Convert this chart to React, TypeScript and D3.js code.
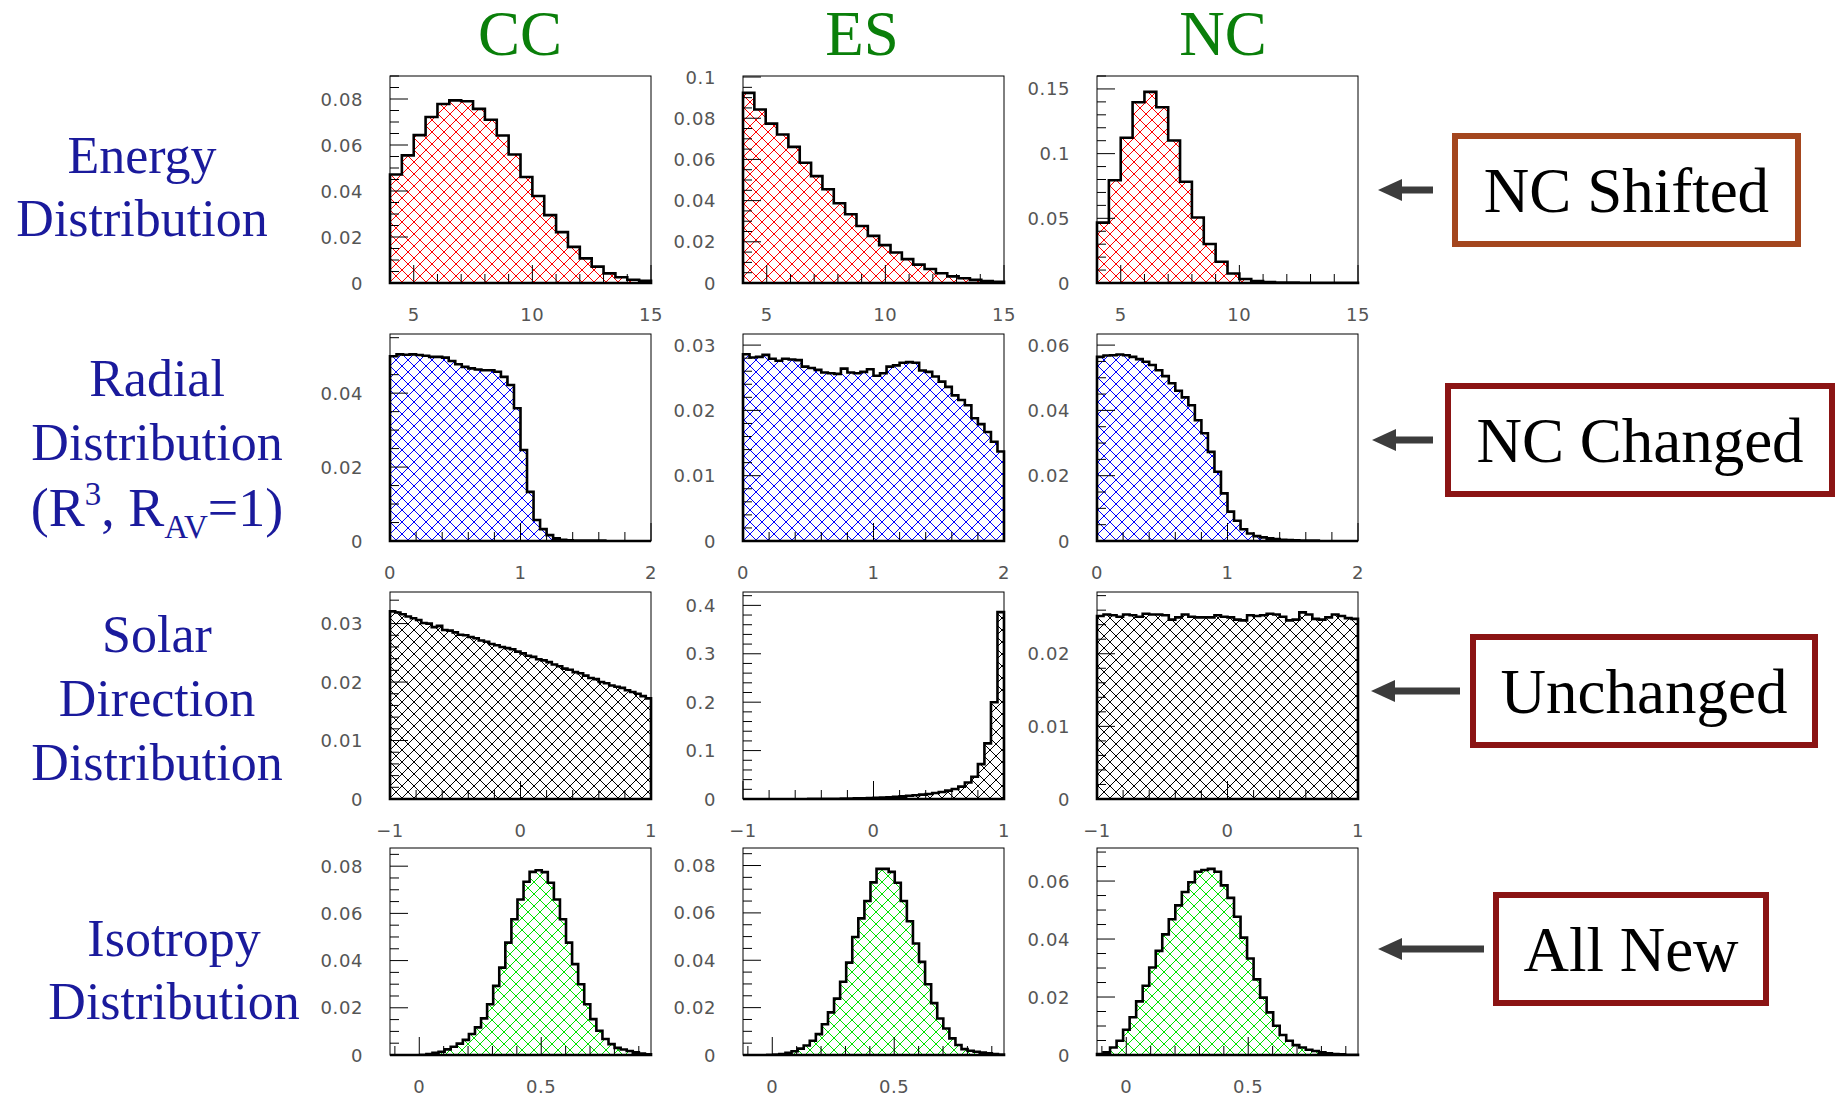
import { line, range, scaleLinear } from "d3";

const columns = ["CC", "ES", "NC"];
const rowNotes = ["NC Shifted", "NC Changed", "Unchanged", "All New"];

// energy (MeV), bins of 0.5
const ccEnergy = [0.0472, 0.0555, 0.0643, 0.0722, 0.0778, 0.0794, 0.079, 0.0757, 0.071, 0.0641, 0.0559, 0.0461, 0.0378, 0.0295, 0.0221, 0.0157, 0.0107, 0.0071, 0.0042, 0.0025, 0.0014, 0.001];
const esEnergy = [0.0923, 0.0842, 0.0774, 0.0721, 0.0661, 0.0584, 0.0519, 0.0455, 0.0387, 0.0334, 0.0277, 0.0229, 0.0184, 0.0148, 0.0116, 0.0089, 0.0068, 0.0047, 0.0032, 0.0023, 0.0015, 0.001, 0.0006];
const ncEnergy = [0.0467, 0.0794, 0.1123, 0.1397, 0.1477, 0.1359, 0.1102, 0.0783, 0.0506, 0.0301, 0.0164, 0.0074, 0.0031, 0.0015, 0.0008, 0.0004, 0.0003, 0.0002, 0.0001, 0.0001, 0.0001, 0.0001];

// radial (R^3), bins of 0.05
const ccRadial = [
  0.05, 0.0505, 0.0504, 0.0505, 0.0503, 0.0501, 0.0498, 0.0498, 0.0496, 0.0487,
  0.0478, 0.0471, 0.0467, 0.0464, 0.0462, 0.0462, 0.0458, 0.0444, 0.0422, 0.0359,
  0.0246, 0.0133, 0.0057, 0.0032, 0.0016, 0.0007, 0.0003, 0.0002, 0.0001, 0.0001,
  0.0001, 0.0001, 0.0001, 0, 0, 0, 0, 0, 0, 0,
];
const esRadial = [
  0.0286, 0.0281, 0.0282, 0.0285, 0.0279, 0.0276, 0.0279, 0.0278, 0.0277, 0.0267,
  0.0265, 0.0262, 0.0258, 0.0257, 0.0256, 0.0264, 0.0258, 0.0257, 0.0259, 0.0263,
  0.0253, 0.0257, 0.0267, 0.0269, 0.0273, 0.0274, 0.0273, 0.0261, 0.0259, 0.0252,
  0.0244, 0.0236, 0.0223, 0.0216, 0.0208, 0.0188, 0.0179, 0.0167, 0.0152, 0.0137,
];
const ncRadial = [
  0.0564, 0.0568, 0.0569, 0.0571, 0.0569, 0.0564, 0.0557, 0.0549, 0.0539, 0.0523,
  0.0505, 0.0483, 0.046, 0.044, 0.0416, 0.037, 0.033, 0.0273, 0.0212, 0.0146,
  0.009, 0.0062, 0.0036, 0.0023, 0.0015, 0.0011, 0.0008, 0.0006, 0.0004, 0.0003,
  0.0002, 0.0001, 0.0001, 0.0001, 0, 0, 0, 0, 0, 0,
];

// solar direction (cos theta)
const ccSolar = [
  0.0321, 0.0319, 0.0316, 0.0312, 0.0309, 0.0306, 0.0301, 0.03, 0.0294, 0.0296,
  0.0289, 0.0288, 0.0285, 0.0281, 0.028, 0.0277, 0.0275, 0.0271, 0.0269, 0.0265,
  0.0263, 0.026, 0.0258, 0.0256, 0.0252, 0.0249, 0.0245, 0.0243, 0.0239, 0.0237,
  0.0234, 0.023, 0.0227, 0.0223, 0.0221, 0.0217, 0.0215, 0.0211, 0.0207, 0.0205,
  0.02, 0.0198, 0.0194, 0.0192, 0.019, 0.0186, 0.0183, 0.018, 0.0176, 0.0172,
];
const esSolar = [
  0, 0, 0, 0, 0, 0, 0, 0, 0.0001, 0.0001,
  0.0002, 0.0002, 0.0003, 0.0004, 0.0005, 0.0007, 0.0009, 0.0012, 0.0015, 0.0019,
  0.0024, 0.003, 0.0037, 0.0045, 0.0055, 0.0066, 0.0076, 0.009, 0.0103, 0.0124,
  0.0145, 0.0172, 0.0207, 0.0255, 0.034, 0.046, 0.072, 0.115, 0.2, 0.386,
];
const ncSolar = [
  0.0252, 0.0254, 0.0253, 0.0251, 0.0254, 0.0253, 0.0251, 0.0255, 0.0254, 0.0254,
  0.0253, 0.0247, 0.025, 0.0254, 0.0251, 0.025, 0.025, 0.025, 0.0253, 0.0251,
  0.025, 0.0247, 0.0246, 0.0253, 0.0252, 0.0253, 0.0255, 0.0254, 0.0251, 0.0246,
  0.0247, 0.0257, 0.0254, 0.0248, 0.0247, 0.025, 0.0254, 0.0252, 0.0249, 0.0248,
];

// isotropy (beta14)
const ccIso = [
  0, 0, 0, 0, 0, 0.0001, 0.0004, 0.0009, 0.0014, 0.0024,
  0.0035, 0.0048, 0.0064, 0.0089, 0.0117, 0.0155, 0.0215, 0.0293, 0.037, 0.0476,
  0.0575, 0.0659, 0.0734, 0.0776, 0.0783, 0.0775, 0.073, 0.0659, 0.0575, 0.0476,
  0.0385, 0.03, 0.0215, 0.0152, 0.0103, 0.0068, 0.0046, 0.003, 0.0023, 0.0017,
  0.0011, 0.0006, 0.0003,
];
const esIso = [
  0, 0, 0, 0, 0.0001, 0.0002, 0.0004, 0.0009, 0.0016, 0.0027,
  0.004, 0.006, 0.0088, 0.013, 0.018, 0.0238, 0.0309, 0.039, 0.0498, 0.0577,
  0.065, 0.0729, 0.0786, 0.0786, 0.0773, 0.0727, 0.065, 0.0565, 0.0471, 0.0393,
  0.0299, 0.0219, 0.0154, 0.0112, 0.007, 0.0042, 0.0025, 0.0018, 0.0014, 0.001,
  0.0007, 0.0004, 0.0002,
];
const ncIso = [
  0.0003, 0.0009, 0.0026, 0.0049, 0.0087, 0.013, 0.0185, 0.0239, 0.0302, 0.0359,
  0.0416, 0.0468, 0.0516, 0.0562, 0.0596, 0.0632, 0.0638, 0.0642, 0.0632, 0.0585,
  0.0542, 0.0477, 0.0405, 0.0333, 0.0261, 0.0198, 0.0147, 0.0101, 0.0069, 0.0049,
  0.0034, 0.0026, 0.0018, 0.0014, 0.0009, 0.0006, 0.0003, 0.0002, 0.0001, 0.0001,
];

// x axis per row
const rowXDomain = [[4, 15], [0, 2], [-1, 1], [-0.12, 0.95]];
const rowXLabels = [["5", "10", "15"], ["0", "1", "2"], ["−1", "0", "1"], ["0", "0.5"]];
const rowXMinor = [1, 0.2, 0.2, 0.1];

// y axis per panel [row][col]
const panelValues = [
  [ccEnergy, esEnergy, ncEnergy],
  [ccRadial, esRadial, ncRadial],
  [ccSolar, esSolar, ncSolar],
  [ccIso, esIso, ncIso],
];
const panelYMax = [
  [0.09, 0.1005, 0.16],
  [0.056, 0.0317, 0.0634],
  [0.0354, 0.4276, 0.0285],
  [0.0877, 0.0874, 0.0714],
];
const panelYLabels = [
  [["0", "0.02", "0.04", "0.06", "0.08"], ["0", "0.02", "0.04", "0.06", "0.08", "0.1"], ["0", "0.05", "0.1", "0.15"]],
  [["0", "0.02", "0.04"], ["0", "0.01", "0.02", "0.03"], ["0", "0.02", "0.04", "0.06"]],
  [["0", "0.01", "0.02", "0.03"], ["0", "0.1", "0.2", "0.3", "0.4"], ["0", "0.01", "0.02"]],
  [["0", "0.02", "0.04", "0.06", "0.08"], ["0", "0.02", "0.04", "0.06", "0.08"], ["0", "0.02", "0.04", "0.06"]],
];
const panelYMinor = [
  [0.005, 0.005, 0.01],
  [0.005, 0.002, 0.005],
  [0.002, 0.02, 0.002],
  [0.005, 0.005, 0.005],
];

const rowHatch = ["#ff0000", "#0000ff", "#000000", "#00e000"];

// layout
const colX = [390, 743, 1097];
const titleX = [520, 862, 1223];
const rowY = [76, 334, 592, 848];
const W = 261;
const H = 207;
const MAJOR = 18;
const MINOR = 9;
const tickFont = { fontFamily: "DejaVu Sans", fontSize: 18, letterSpacing: 0.6, fill: "#555" };
const blue = "#1a1a9c";
const serif = "Liberation Serif";

const boxes = [
  { x: 1455, y: 136, w: 343, h: 108, stroke: "#a4461e", tip: 1378, tail: 1433 },
  { x: 1448, y: 386, w: 384, h: 108, stroke: "#8b1414", tip: 1372, tail: 1433 },
  { x: 1473, y: 637, w: 342, h: 108, stroke: "#8b1414", tip: 1371, tail: 1460 },
  { x: 1496, y: 895, w: 270, h: 108, stroke: "#8b1414", tip: 1378, tail: 1484 },
];

const num = (s: string) => Number(s.replace("−", "-"));

function Panel({ r, c }: { r: number; c: number }) {
  const values = panelValues[r][c];
  const [x0, x1] = rowXDomain[r];
  const left = colX[c];
  const top = rowY[r];
  const x = scaleLinear().domain([x0, x1]).range([left, left + W]);
  const y = scaleLinear().domain([0, panelYMax[r][c]]).range([top + H, top]);
  const n = values.length;
  const bw = (x1 - x0) / n;
  const pts: [number, number][] = [[x0, 0]];
  values.forEach((v, i) => {
    pts.push([x0 + i * bw, v]);
    pts.push([x0 + (i + 1) * bw, v]);
  });
  pts.push([x1, 0]);
  const d = line<[number, number]>()
    .x((p) => x(p[0]))
    .y((p) => y(p[1]))(pts) + "Z";

  const yLabels = panelYLabels[r][c];
  const yMajor = yLabels.map(num);
  const yMinorStep = panelYMinor[r][c];
  const yTicks = range(0, panelYMax[r][c] + 1e-9, yMinorStep);
  const xLabels = rowXLabels[r];
  const xMajor = xLabels.map(num);
  const xStep = rowXMinor[r];
  const xTicks = range(Math.ceil(x0 / xStep - 1e-6) * xStep, x1 + 1e-6, xStep);
  const isMajor = (arr: number[], v: number, step: number) => arr.some((m) => Math.abs(m - v) < step / 10);

  return (
    <g>
      <path d={d} fill={`url(#hatch${r})`} stroke="none" />
      <rect x={left} y={top} width={W} height={H} fill="none" stroke="#000" strokeWidth={1} />
      {yTicks.map((t, i) => (
        <line key={"y" + i} x1={left} x2={left + (isMajor(yMajor, t, yMinorStep) ? MAJOR : MINOR)} y1={y(t)} y2={y(t)} stroke="#000" strokeWidth={1} />
      ))}
      {xTicks.map((t, i) => (
        <line key={"x" + i} x1={x(t)} x2={x(t)} y1={top + H} y2={top + H - (isMajor(xMajor, t, xStep) ? MAJOR : MINOR)} stroke="#000" strokeWidth={1} />
      ))}
      <path d={d} fill="none" stroke="#000" strokeWidth={2.6} strokeLinejoin="miter" />
      {yLabels.map((l, i) => (
        <text key={"yl" + i} x={left - 27} y={y(yMajor[i])} textAnchor="end" dominantBaseline="central" {...tickFont}>
          {l}
        </text>
      ))}
      {xLabels.map((l, i) => (
        <text key={"xl" + i} x={x(xMajor[i])} y={top + H + 31} textAnchor="middle" dominantBaseline="central" {...tickFont}>
          {l}
        </text>
      ))}
    </g>
  );
}

export default function App() {
  const rowLabelStyle = { fontFamily: serif, fontSize: 52, fill: blue, textAnchor: "middle" as const };
  return (
    <svg width={1839} height={1099} style={{ position: "absolute", left: 0, top: 0, background: "#fff" }}>
      <defs>
        {rowHatch.map((col, i) => (
          <pattern key={i} id={`hatch${i}`} patternUnits="userSpaceOnUse" width={12} height={12}>
            <path d="M0,0L12,12M12,0L0,12M-1,11L1,13M11,-1L13,1M-1,1L1,-1M11,13L13,11" stroke={col} strokeWidth={1} fill="none" />
          </pattern>
        ))}
      </defs>
      <rect width={1839} height={1099} fill="#fff" />

      {columns.map((c, i) => (
        <text key={c} x={titleX[i]} y={55} textAnchor="middle" fontFamily={serif} fontSize={63} fill="#0a7f0a">
          {c}
        </text>
      ))}

      <text {...rowLabelStyle} x={142}>
        <tspan x={142} y={173}>Energy</tspan>
        <tspan x={142} y={236}>Distribution</tspan>
      </text>
      <text {...rowLabelStyle} x={157}>
        <tspan x={157} y={396}>Radial</tspan>
        <tspan x={157} y={460}>Distribution</tspan>
      </text>
      <text {...rowLabelStyle} x={157} y={526} fontSize={54}>
        (R<tspan fontSize={33} dy={-21}>3</tspan>
        <tspan dy={21}>, R</tspan>
        <tspan fontSize={33} dy={12}>AV</tspan>
        <tspan dy={-12}>=1)</tspan>
      </text>
      <text {...rowLabelStyle}>
        <tspan x={157} y={652}>Solar</tspan>
        <tspan x={157} y={716}>Direction</tspan>
        <tspan x={157} y={780}>Distribution</tspan>
      </text>
      <text {...rowLabelStyle}>
        <tspan x={174} y={956}>Isotropy</tspan>
        <tspan x={174} y={1019}>Distribution</tspan>
      </text>

      {[0, 1, 2, 3].map((r) => [0, 1, 2].map((c) => <Panel key={`${r}-${c}`} r={r} c={c} />))}

      {boxes.map((b, i) => {
        const cy = b.y + b.h / 2;
        return (
          <g key={i}>
            <rect x={b.x} y={b.y} width={b.w} height={b.h} fill="#fff" stroke={b.stroke} strokeWidth={6} />
            <text x={b.x + b.w / 2} y={cy + 22} textAnchor="middle" fontFamily={serif} fontSize={63} fill="#000">
              {rowNotes[i]}
            </text>
            <rect x={b.tip + 18} y={cy - 3.5} width={b.tail - b.tip - 18} height={7} fill="#3c3c3c" />
            <path d={`M${b.tip},${cy}L${b.tip + 24},${cy - 11}L${b.tip + 24},${cy + 11}Z`} fill="#3c3c3c" />
          </g>
        );
      })}
    </svg>
  );
}
